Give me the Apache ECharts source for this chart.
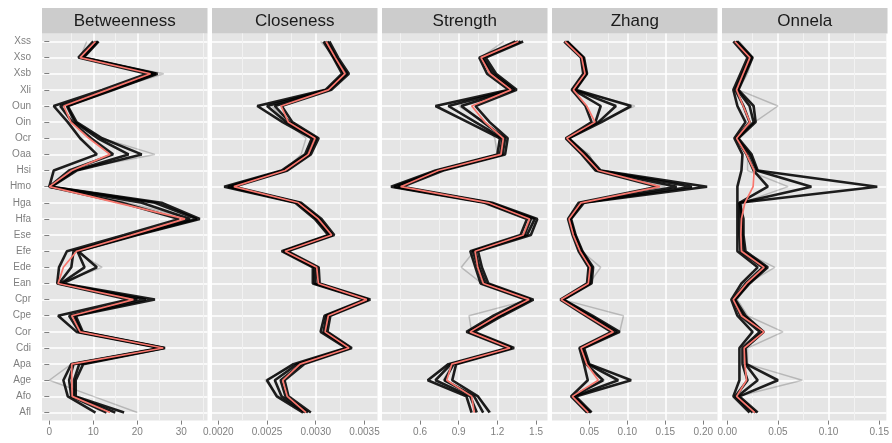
<!DOCTYPE html>
<html><head><meta charset="utf-8">
<script src="https://cdn.jsdelivr.net/npm/echarts@6/dist/echarts.min.js"></script>
<style>html,body{margin:0;padding:0;background:#fff}#c{width:892px;height:443px}</style>
</head><body><div id="c"></div>
<script>
// ---- data (categories listed top -> bottom) ----
const categories = ['Xss','Xso','Xsb','Xli','Oun','Oin','Ocr','Oaa','Hsi','Hmo','Hga','Hfa','Ese','Efe','Ede','Ean','Cpr','Cpe','Cor','Cdi','Apa','Age','Afo','Afl'];
const panelNames = ['Betweenness','Closeness','Strength','Zhang','Onnela'];

const betweennessTicks = [0, 10, 20, 30];
const closenessTicks = [0.0020, 0.0025, 0.0030, 0.0035];
const strengthTicks = [0.6, 0.9, 1.2, 1.5];
const zhangTicks = [0.05, 0.10, 0.15, 0.20];
const onnelaTicks = [0.00, 0.05, 0.10, 0.15];

const betweennessOrig  = [10.5, 7.0, 23.0, 13.2, 3.3, 4.9, 9.0, 13.8, 5.1, 0.0, 15.5, 30.8, 18.6, 6.2, 3.2, 2.0, 19.1, 5.1, 7.0, 25.9, 5.1, 5.1, 5.2, 13.8];
const betweennessBoot1 = [10.0, 6.6, 22.2, 12.0, 1.0, 4.2, 7.0, 10.8, 1.0, 0.0, 16.5, 29.5, 17.0, 4.0, 2.2, 1.8, 18.0, 2.0, 6.2, 25.2, 5.0, 3.2, 4.2, 10.5];
const betweennessBoot2 = [10.6, 7.2, 23.5, 13.5, 2.5, 5.2, 9.5, 14.5, 4.5, 0.0, 21.0, 32.0, 18.5, 5.5, 5.0, 2.2, 20.0, 4.5, 6.8, 25.6, 5.5, 4.5, 5.0, 13.0];
const betweennessBoot3 = [11.0, 7.6, 24.2, 14.2, 4.0, 5.8, 11.0, 18.0, 5.8, 0.3, 24.0, 33.5, 19.5, 6.4, 8.0, 2.6, 22.0, 5.6, 7.3, 26.1, 6.8, 5.6, 5.6, 15.0];
const betweennessBoot4 = [11.2, 7.8, 24.6, 14.6, 4.2, 6.2, 12.0, 21.0, 6.2, 0.5, 25.5, 34.2, 20.0, 6.6, 10.8, 3.0, 24.0, 6.0, 7.6, 26.3, 7.7, 6.0, 6.0, 17.0];
const betweennessFaint = [8.5, 7.0, 26.0, 14.0, 3.0, 5.0, 12.0, 24.0, 5.0, 0.0, 18.0, 32.0, 18.0, 6.0, 12.0, 2.0, 20.0, 5.0, 7.0, 26.0, 5.0, 0.0, 10.0, 20.0];

const closenessOrig  = [0.003106, 0.00320, 0.003301, 0.00313, 0.002644, 0.002719, 0.002993, 0.002924, 0.002685, 0.00216, 0.002822, 0.003027, 0.003164, 0.002685, 0.00301, 0.003027, 0.003524, 0.003129, 0.003096, 0.003342, 0.002839, 0.002661, 0.002708, 0.0029];
const closenessBoot1 = [0.00308, 0.00318, 0.00327, 0.00310, 0.00240, 0.00266, 0.00296, 0.00289, 0.00265, 0.00206, 0.00279, 0.00299, 0.00313, 0.00265, 0.00297, 0.00297, 0.00350, 0.00309, 0.00305, 0.00331, 0.00277, 0.00250, 0.00260, 0.00287];
const closenessBoot2 = [0.00310, 0.00319, 0.00329, 0.00312, 0.00250, 0.00270, 0.00298, 0.00291, 0.00267, 0.00210, 0.00281, 0.00301, 0.00315, 0.00267, 0.00299, 0.00299, 0.00352, 0.00311, 0.00308, 0.00333, 0.00281, 0.00258, 0.00265, 0.00289];
const closenessBoot3 = [0.00312, 0.00321, 0.00332, 0.00314, 0.00258, 0.00273, 0.00301, 0.00293, 0.00269, 0.00213, 0.00283, 0.00304, 0.00317, 0.00269, 0.00301, 0.00302, 0.00354, 0.00313, 0.00310, 0.00335, 0.00285, 0.00264, 0.00269, 0.00292];
const closenessBoot4 = [0.00314, 0.00323, 0.00334, 0.00316, 0.00265, 0.00276, 0.00303, 0.00295, 0.00271, 0.00216, 0.00285, 0.00306, 0.00319, 0.00271, 0.00303, 0.00304, 0.00356, 0.00315, 0.00312, 0.00337, 0.00288, 0.00268, 0.00272, 0.00295];
const closenessFaint = [0.00305, 0.00320, 0.00330, 0.00310, 0.00255, 0.00270, 0.00290, 0.00285, 0.00268, 0.00212, 0.00282, 0.00300, 0.00315, 0.00268, 0.00298, 0.00300, 0.00350, 0.00312, 0.00309, 0.00334, 0.00280, 0.00248, 0.00262, 0.00290];

const strengthOrig  = [1.363, 1.073, 1.143, 1.306, 1.001, 1.104, 1.246, 1.228, 0.742, 0.45, 1.13, 1.45, 1.40, 1.027, 1.048, 1.091, 1.446, 1.20, 0.988, 1.298, 0.846, 0.807, 1.001, 1.021];
const strengthBoot1 = [1.34, 1.06, 1.12, 1.29, 0.72, 0.97, 1.22, 1.20, 0.72, 0.375, 1.10, 1.43, 1.38, 0.99, 1.03, 1.07, 1.42, 1.17, 0.96, 1.28, 0.82, 0.66, 0.96, 1.00];
const strengthBoot2 = [1.36, 1.08, 1.15, 1.31, 0.82, 1.03, 1.24, 1.22, 0.74, 0.40, 1.12, 1.46, 1.41, 1.01, 1.05, 1.09, 1.44, 1.20, 0.98, 1.30, 0.84, 0.72, 0.99, 1.04];
const strengthBoot3 = [1.38, 1.09, 1.17, 1.33, 0.92, 1.09, 1.26, 1.24, 0.76, 0.43, 1.14, 1.49, 1.43, 1.03, 1.06, 1.11, 1.46, 1.22, 1.00, 1.31, 0.86, 0.79, 1.02, 1.09];
const strengthBoot4 = [1.40, 1.11, 1.19, 1.35, 1.03, 1.14, 1.28, 1.26, 0.78, 0.46, 1.16, 1.51, 1.46, 1.05, 1.08, 1.13, 1.48, 1.24, 1.02, 1.33, 0.88, 0.85, 1.05, 1.14];
const strengthFaint = [1.25, 1.07, 1.15, 1.30, 0.90, 1.10, 1.18, 1.20, 0.75, 0.45, 1.10, 1.45, 1.40, 1.02, 0.92, 1.08, 1.45, 0.98, 1.00, 1.30, 0.85, 0.78, 1.05, 1.15];

const zhangOrig  = [0.018, 0.040, 0.0443, 0.029, 0.0466, 0.0575, 0.0203, 0.042, 0.0618, 0.143, 0.039, 0.0233, 0.029, 0.0378, 0.051, 0.0487, 0.0128, 0.047, 0.0816, 0.039, 0.0466, 0.0618, 0.0276, 0.0487];
const zhangBoot1 = [0.017, 0.039, 0.042, 0.027, 0.045, 0.053, 0.019, 0.040, 0.058, 0.140, 0.036, 0.022, 0.028, 0.036, 0.049, 0.047, 0.012, 0.045, 0.079, 0.037, 0.043, 0.048, 0.026, 0.047];
const zhangBoot2 = [0.019, 0.041, 0.044, 0.029, 0.065, 0.058, 0.021, 0.042, 0.061, 0.165, 0.039, 0.024, 0.030, 0.038, 0.051, 0.049, 0.014, 0.048, 0.082, 0.039, 0.046, 0.068, 0.028, 0.049];
const zhangBoot3 = [0.020, 0.042, 0.046, 0.031, 0.085, 0.062, 0.022, 0.044, 0.063, 0.185, 0.041, 0.025, 0.031, 0.040, 0.053, 0.051, 0.015, 0.051, 0.086, 0.041, 0.048, 0.088, 0.030, 0.051];
const zhangBoot4 = [0.021, 0.043, 0.047, 0.032, 0.105, 0.066, 0.023, 0.046, 0.065, 0.205, 0.043, 0.026, 0.032, 0.041, 0.055, 0.053, 0.016, 0.054, 0.090, 0.043, 0.050, 0.105, 0.032, 0.053];
const zhangFaint = [0.020, 0.040, 0.045, 0.030, 0.110, 0.060, 0.020, 0.050, 0.060, 0.150, 0.040, 0.025, 0.030, 0.040, 0.065, 0.050, 0.015, 0.095, 0.090, 0.040, 0.045, 0.070, 0.030, 0.050];

const onnelaOrig  = [0.0075, 0.0223, 0.0157, 0.0092, 0.0157, 0.0223, 0.0092, 0.019, 0.0265, 0.0255, 0.0174, 0.014, 0.0134, 0.014, 0.0363, 0.019, 0.0059, 0.014, 0.0363, 0.0167, 0.0174, 0.019, 0.0092, 0.0272];
const onnelaBoot1 = [0.006, 0.020, 0.013, 0.006, 0.010, 0.018, 0.007, 0.015, 0.014, 0.010, 0.010, 0.010, 0.010, 0.010, 0.030, 0.014, 0.004, 0.010, 0.025, 0.012, 0.012, 0.012, 0.006, 0.022];
const onnelaBoot2 = [0.008, 0.022, 0.015, 0.008, 0.016, 0.022, 0.009, 0.019, 0.026, 0.040, 0.012, 0.012, 0.012, 0.013, 0.035, 0.018, 0.006, 0.013, 0.032, 0.015, 0.015, 0.020, 0.008, 0.025];
const onnelaBoot3 = [0.009, 0.024, 0.017, 0.010, 0.022, 0.026, 0.010, 0.022, 0.029, 0.083, 0.013, 0.014, 0.015, 0.016, 0.038, 0.021, 0.007, 0.016, 0.035, 0.017, 0.018, 0.030, 0.010, 0.028];
const onnelaBoot4 = [0.010, 0.025, 0.018, 0.011, 0.026, 0.028, 0.011, 0.024, 0.030, 0.148, 0.012, 0.016, 0.016, 0.018, 0.040, 0.022, 0.008, 0.018, 0.036, 0.018, 0.019, 0.050, 0.012, 0.030];
const onnelaFaint = [0.012, 0.025, 0.020, 0.011, 0.050, 0.027, 0.010, 0.020, 0.020, 0.060, 0.015, 0.015, 0.015, 0.015, 0.047, 0.020, 0.010, 0.020, 0.055, 0.020, 0.020, 0.074, 0.010, 0.028];

// ---- layout / scales ----
const panels = [
  {orig: betweennessOrig, boots: [betweennessBoot1, betweennessBoot2, betweennessBoot3, betweennessBoot4], faint: betweennessFaint, ticks: betweennessTicks, min: -1.66, max: 35.95, iv: 10, dec: 0},
  {orig: closenessOrig, boots: [closenessBoot1, closenessBoot2, closenessBoot3, closenessBoot4], faint: closenessFaint, ticks: closenessTicks, min: 0.001935, max: 0.003634, iv: 0.0005, dec: 4},
  {orig: strengthOrig, boots: [strengthBoot1, strengthBoot2, strengthBoot3, strengthBoot4], faint: strengthFaint, ticks: strengthTicks, min: 0.305, max: 1.589, iv: 0.3, dec: 1},
  {orig: zhangOrig, boots: [zhangBoot1, zhangBoot2, zhangBoot3, zhangBoot4], faint: zhangFaint, ticks: zhangTicks, min: 0.0009, max: 0.2187, iv: 0.05, dec: 2},
  {orig: onnelaOrig, boots: [onnelaBoot1, onnelaBoot2, onnelaBoot3, onnelaBoot4], faint: onnelaFaint, ticks: onnelaTicks, min: -0.0052, max: 0.157, iv: 0.05, dec: 2}
];
const FONT = '"Liberation Sans", Arial, Helvetica, sans-serif';
const PANEL_LEFT = 42, PANEL_PITCH = 170, PANEL_W = 165.5, PANEL_TOP = 33.4, PANEL_H = 387.2;
const STRIP_TOP = 8;

const grids = [], xAxes = [], yAxes = [], series = [], graphics = [];
panels.forEach((p, i) => {
  const left = PANEL_LEFT + i * PANEL_PITCH;
  grids.push({left: left, top: PANEL_TOP, width: PANEL_W, height: PANEL_H, show: true, backgroundColor: '#E5E5E5', borderWidth: 0, containLabel: false});
  xAxes.push({
    gridIndex: i, type: 'value', min: p.min, max: p.max, minInterval: p.iv, maxInterval: p.iv,
    axisLine: {show: false},
    axisTick: {show: true, length: 4, customValues: p.ticks, lineStyle: {color: '#7F7F7F', width: 1}},
    axisLabel: {customValues: p.ticks, color: '#7F7F7F', fontSize: 10, fontFamily: FONT, margin: 7,
      formatter: v => Number(v).toFixed(p.dec)},
    splitLine: {show: true, showMinLine: false, showMaxLine: false, lineStyle: {color: '#FFFFFF', width: 1.5}},
    minorTick: {show: false, splitNumber: 2},
    minorSplitLine: {show: true, lineStyle: {color: '#F2F2F2', width: 1}}
  });
  yAxes.push({
    gridIndex: i, type: 'category', data: categories, inverse: true, boundaryGap: true,
    axisLine: {show: false},
    axisTick: {show: i === 0, alignWithLabel: true, interval: 0, length: 5, lineStyle: {color: '#7F7F7F', width: 1}},
    axisLabel: {show: i === 0, interval: 0, color: '#7F7F7F', fontSize: 10, fontFamily: FONT, margin: 11},
    splitLine: {show: true, alignWithLabel: true, interval: 0, lineStyle: {color: '#FFFFFF', width: 1.5}}
  });
  const mk = arr => arr.map((v, k) => [v, k]);
  series.push({type: 'line', xAxisIndex: i, yAxisIndex: i, data: mk(p.faint), showSymbol: false, silent: true, z: 2,
    lineStyle: {color: '#000', width: 1.5, opacity: 0.2}});
  p.boots.forEach(b => {
    series.push({type: 'line', xAxisIndex: i, yAxisIndex: i, data: mk(b), showSymbol: false, silent: true, z: 3,
      lineStyle: {color: '#000', width: 2.6, opacity: 0.88}});
  });
  series.push({type: 'line', xAxisIndex: i, yAxisIndex: i, data: mk(p.orig), showSymbol: false, silent: true, z: 5,
    lineStyle: {color: '#F8766D', width: 1.7, opacity: 1}});
  graphics.push({type: 'rect', shape: {x: left, y: STRIP_TOP, width: PANEL_W, height: PANEL_TOP - STRIP_TOP}, style: {fill: '#CCCCCC'}, silent: true});
  graphics.push({type: 'text', x: left + PANEL_W / 2, y: (STRIP_TOP + PANEL_TOP) / 2 + 0.5, silent: true,
    style: {text: panelNames[i], fill: '#1A1A1A', fontSize: 17, fontFamily: FONT, align: 'center', verticalAlign: 'middle', textAlign: 'center', textVerticalAlign: 'middle'}});
});

const chart = echarts.init(document.getElementById('c'), null, {renderer: 'canvas'});
chart.setOption({
  animation: false,
  backgroundColor: '#FFFFFF',
  grid: grids, xAxis: xAxes, yAxis: yAxes, series: series,
  graphic: {elements: graphics}
});
</script></body></html>
